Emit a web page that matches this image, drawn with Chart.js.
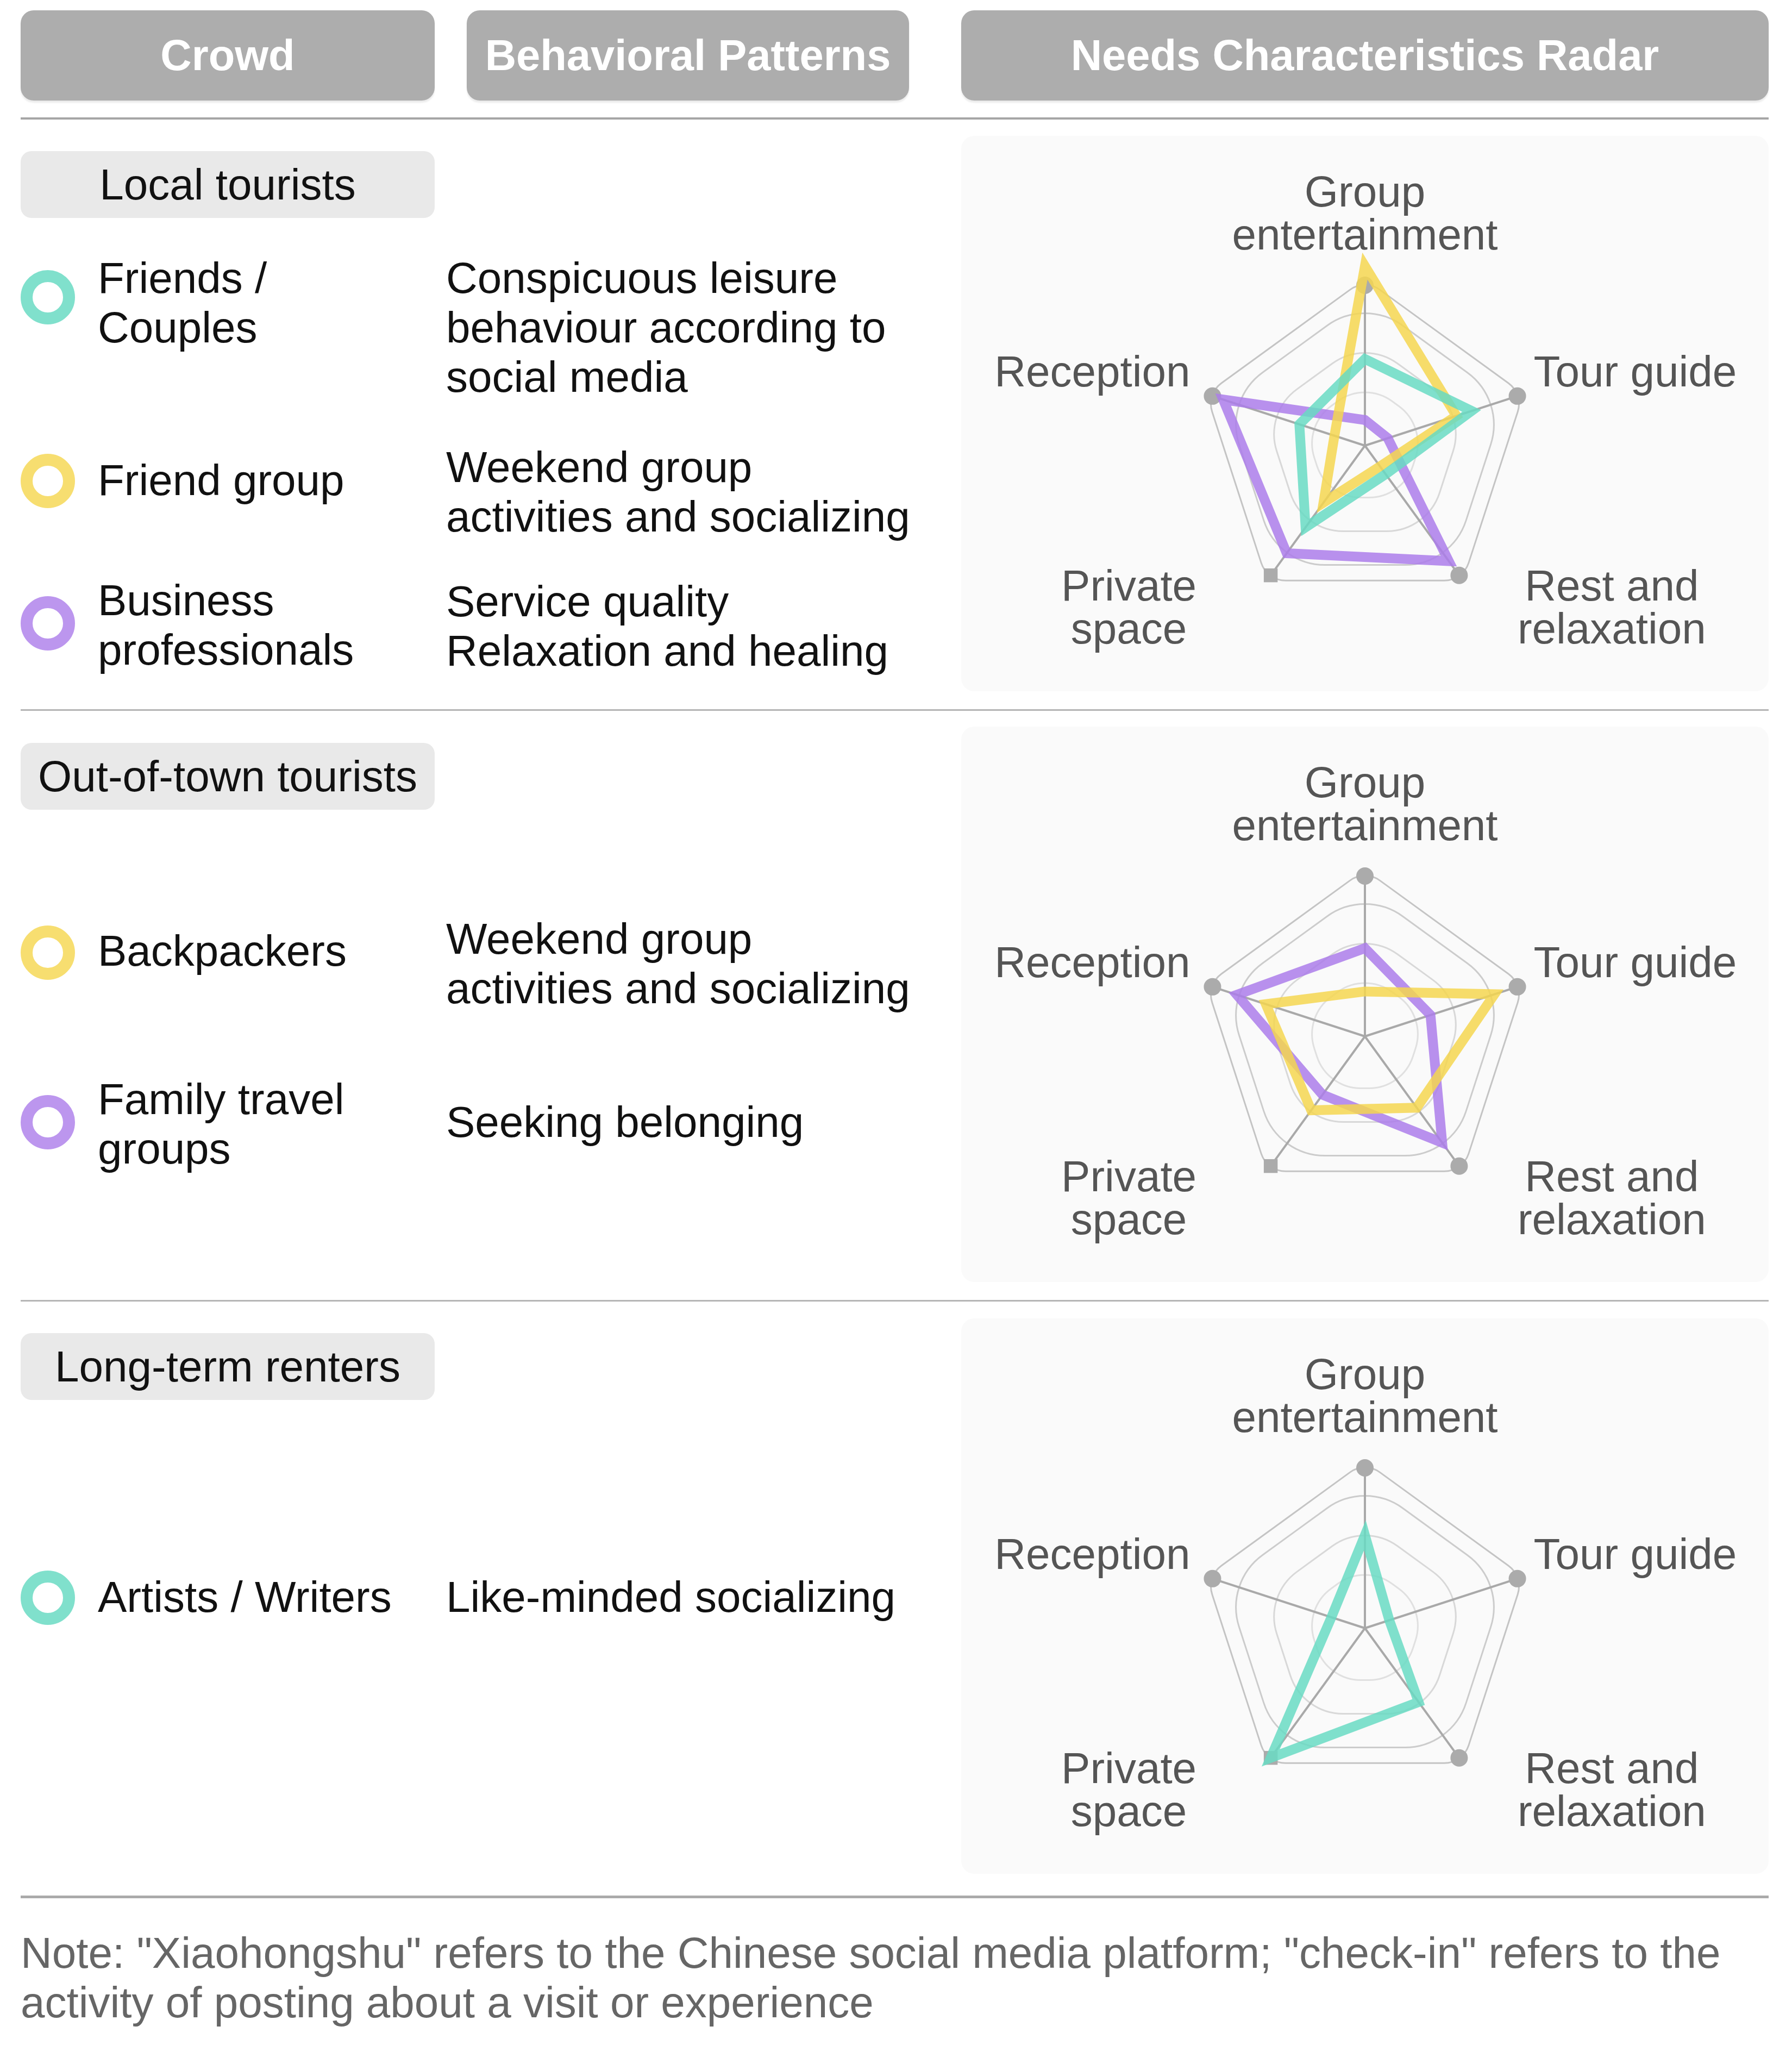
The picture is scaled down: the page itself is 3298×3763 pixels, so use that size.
<!DOCTYPE html>
<html>
<head>
<meta charset="utf-8">
<script src="https://cdn.jsdelivr.net/npm/chart.js@4.4.0/dist/chart.umd.min.js"></script>
<style>
  body { margin: 0; width: 3298px; height: 3763px; background: #fff; position: relative;
         font-family: "Liberation Sans", Arial, sans-serif; font-size: 80px; color: #111; }
  .head { position: absolute; top: 19px; height: 166px; background: #adadad; border-radius: 24px;
          color: #fff; font-weight: bold; font-size: 79.5px; display: flex; align-items: center;
          justify-content: center; box-shadow: 0 4px 3px rgba(0,0,0,0.08); }
  .rule { position: absolute; left: 38px; width: 3217px; background: #b5b5b5; }
  .group { position: absolute; left: 38px; width: 762px; height: 123px; background: #e9e9e9;
           border-radius: 20px; display: flex; align-items: center; justify-content: center; }
  .icon { position: absolute; left: 38px; width: 56px; height: 56px; border-radius: 50%;
          border: 22px solid; }
  .txt { position: absolute; line-height: 91px; white-space: nowrap; }
  .panel { position: absolute; left: 1769px; width: 1486px; height: 1022px; background: #fafafa;
           border-radius: 24px; }
  .panel canvas { position: absolute; left: 0; top: 0; }
  .note { position: absolute; left: 38px; top: 3548px; line-height: 91px; color: #666; white-space: nowrap; }
</style>
</head>
<body>

<div class="head" style="left:38px;width:762px">Crowd</div>
<div class="head" style="left:859px;width:814px">Behavioral Patterns</div>
<div class="head" style="left:1769px;width:1486px">Needs Characteristics Radar</div>
<div class="rule" style="top:216px;height:4px;background:#a6a6a6"></div>

<!-- Local tourists -->
<div class="group" style="top:278px">Local tourists</div>
<div class="icon" style="top:497px;border-color:#80e0cc"></div>
<div class="txt" style="left:180px;top:466px">Friends /<br>Couples</div>
<div class="txt" style="left:821px;top:466px">Conspicuous leisure<br>behaviour according to<br>social media</div>
<div class="icon" style="top:835px;border-color:#f7de70"></div>
<div class="txt" style="left:180px;top:838px">Friend group</div>
<div class="txt" style="left:821px;top:814px">Weekend group<br>activities and socializing</div>
<div class="icon" style="top:1097px;border-color:#bc96ee"></div>
<div class="txt" style="left:180px;top:1059px">Business<br>professionals</div>
<div class="txt" style="left:821px;top:1061px">Service quality<br>Relaxation and healing</div>
<div class="panel" style="top:250px"><canvas id="radarLocal" width="1486" height="1022"></canvas></div>
<div class="rule" style="top:1305px;height:3px"></div>

<!-- Out-of-town tourists -->
<div class="group" style="top:1367px">Out-of-town tourists</div>
<div class="icon" style="top:1703px;border-color:#f7de70"></div>
<div class="txt" style="left:180px;top:1704px">Backpackers</div>
<div class="txt" style="left:821px;top:1682px">Weekend group<br>activities and socializing</div>
<div class="icon" style="top:2015px;border-color:#bc96ee"></div>
<div class="txt" style="left:180px;top:1977px">Family travel<br>groups</div>
<div class="txt" style="left:821px;top:2019px">Seeking belonging</div>
<div class="panel" style="top:1337px"><canvas id="radarOut" width="1486" height="1022"></canvas></div>
<div class="rule" style="top:2392px;height:3px"></div>

<!-- Long-term renters -->
<div class="group" style="top:2453px">Long-term renters</div>
<div class="icon" style="top:2890px;border-color:#80e0cc"></div>
<div class="txt" style="left:180px;top:2893px">Artists / Writers</div>
<div class="txt" style="left:821px;top:2893px">Like-minded socializing</div>
<div class="panel" style="top:2426px"><canvas id="radarRenters" width="1486" height="1022"></canvas></div>
<div class="rule" style="top:3488px;height:5px;background:#aaa"></div>

<div class="note">Note: "Xiaohongshu" refers to the Chinese social media platform; "check-in" refers to the<br>activity of posting about a visit or experience</div>

<script>
// axes, clockwise from the top
const axisLabels = [["Group", "entertainment"], ["Tour guide"], ["Rest and", "relaxation"], ["Private", "space"], ["Reception"]];

// local tourists
const friendsCouples = [54, 70, 22, 63, 43];
const friendGroup = [112, 60, 16, 44, 20];
const businessPros = [16, 15, 89, 83, 93];

// out-of-town tourists
const backpackers = [28, 85, 55, 57, 65];
const familyTravel = [55, 43, 82, 45, 84];

// long-term renters
const artistsWriters = [58, 16, 57, 100, 22];

// axis end markers and grid rings (value units, max = 100)
const axisMax = [100, 100, 100, 100, 100];
const ringLevels = [104, 92, 66, 40];

const TEAL = "rgba(104, 218, 195, 0.85)";
const YELLOW = "rgba(245, 214, 80, 0.85)";
const PURPLE = "rgba(172, 124, 234, 0.85)";

const ringStyle = [
  { round: 0.19, color: "#c4c4c4" },
  { round: 0.54, color: "#cccccc" },
  { round: 0.65, color: "#d8d8d8" },
  { round: 0.89, color: "#e0e0e0" }
];

const labelPos = [
  { dx: 0, dy: -167, align: "center" },
  { dx: 30, dy: -40, align: "left" },
  { dx: 281, dy: 24, align: "center" },
  { dx: -261, dy: 24, align: "center" },
  { dx: -41, dy: -40, align: "right" }
];

// rounded pentagon rings under the axes
const ringPlugin = {
  id: "rings",
  beforeDraw(chart) {
    const r = chart.scales.r;
    const ctx = chart.ctx;
    const n = chart.data.labels.length;
    ringLevels.forEach((level, k) => {
      const pts = [];
      for (let i = 0; i < n; i++) pts.push(r.getPointPositionForValue(i, level));
      const dist = r.getDistanceFromCenterForValue(level);
      const corner = ringStyle[k].round * dist * Math.cos(Math.PI / n);
      ctx.save();
      ctx.beginPath();
      ctx.moveTo((pts[n - 1].x + pts[0].x) / 2, (pts[n - 1].y + pts[0].y) / 2);
      for (let i = 0; i < n; i++) {
        const p = pts[i], q = pts[(i + 1) % n];
        ctx.arcTo(p.x, p.y, q.x, q.y, corner);
      }
      ctx.closePath();
      ctx.strokeStyle = ringStyle[k].color;
      ctx.lineWidth = 3;
      ctx.stroke();
      ctx.restore();
    });
  }
};

// axis names placed round the outer markers
const labelPlugin = {
  id: "axisLabels",
  afterDraw(chart) {
    const r = chart.scales.r;
    const ctx = chart.ctx;
    ctx.save();
    ctx.font = '80px "Liberation Sans", Arial, sans-serif';
    ctx.fillStyle = "#555";
    ctx.textBaseline = "middle";
    chart.data.labels.forEach((lines, i) => {
      const p = r.getPointPositionForValue(i, 100);
      const o = labelPos[i];
      ctx.textAlign = o.align;
      lines.forEach((t, j) => ctx.fillText(t, p.x + o.dx, p.y + o.dy + j * 79));
    });
    ctx.restore();
  }
};

function series(label, data, color) {
  return {
    label: label,
    data: data,
    borderColor: color,
    backgroundColor: "transparent",
    borderWidth: 18,
    borderJoinStyle: "miter",
    fill: false,
    pointRadius: 0,
    clip: false,
    order: 1
  };
}

function makeRadar(id, sets) {
  new Chart(document.getElementById(id), {
    type: "radar",
    data: {
      labels: axisLabels,
      datasets: sets.concat([{
        label: "max",
        data: axisMax,
        showLine: false,
        fill: false,
        borderColor: "transparent",
        backgroundColor: "transparent",
        pointBackgroundColor: "#ababab",
        pointBorderWidth: 0,
        pointRadius: [16, 16, 16, 18, 16],
        pointStyle: ["circle", "circle", "circle", "rect", "circle"],
        clip: false,
        order: 10
      }])
    },
    options: {
      responsive: false,
      animation: false,
      layout: { padding: { top: 275, bottom: 157, left: 448, right: 448 } },
      elements: { line: { borderWidth: 18, tension: 0 } },
      plugins: { legend: { display: false }, tooltip: { enabled: false } },
      scales: {
        r: {
          min: 0,
          max: 100,
          ticks: { display: false },
          grid: { display: false },
          angleLines: { color: "#a9a9a9", lineWidth: 4 },
          pointLabels: { display: false }
        }
      }
    },
    plugins: [ringPlugin, labelPlugin]
  });
}

makeRadar("radarLocal", [
  series("Friends / Couples", friendsCouples, TEAL),
  series("Friend group", friendGroup, YELLOW),
  series("Business professionals", businessPros, PURPLE)
]);

makeRadar("radarOut", [
  series("Backpackers", backpackers, YELLOW),
  series("Family travel groups", familyTravel, PURPLE)
]);

makeRadar("radarRenters", [
  series("Artists / Writers", artistsWriters, TEAL)
]);
</script>
</body>
</html>
